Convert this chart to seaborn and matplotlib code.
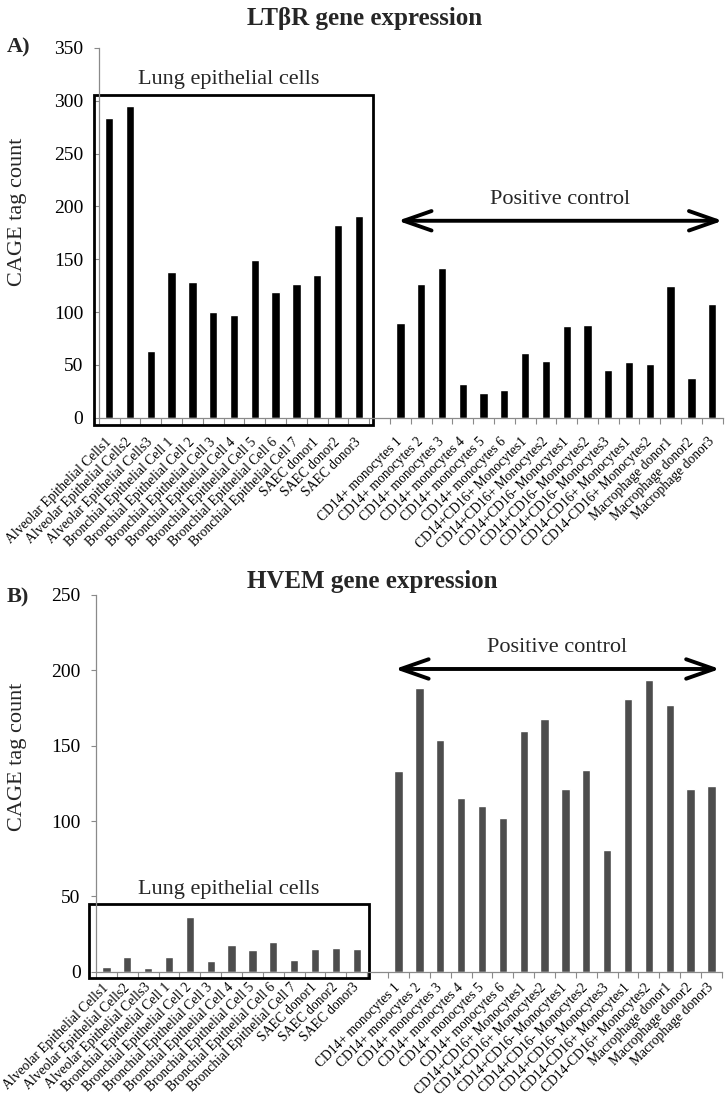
import numpy as np
import pandas as pd
import matplotlib
matplotlib.use("Agg")
import matplotlib.pyplot as plt
from matplotlib.patches import Rectangle
import seaborn as sns

# =======================
# Datos (CAGE tag count)
# =======================
lung_cells = [
    "Alveolar Epithelial Cells1", "Alveolar Epithelial Cells2", "Alveolar Epithelial Cells3",
    "Bronchial Epithelial Cell 1", "Bronchial Epithelial Cell 2", "Bronchial Epithelial Cell 3",
    "Bronchial Epithelial Cell 4", "Bronchial Epithelial Cell 5", "Bronchial Epithelial Cell 6",
    "Bronchial Epithelial Cell 7", "SAEC donor1", "SAEC donor2", "SAEC donor3",
]
control_cells = [
    "CD14+ monocytes 1", "CD14+ monocytes 2", "CD14+ monocytes 3",
    "CD14+ monocytes 4", "CD14+ monocytes 5", "CD14+ monocytes 6",
    "CD14+CD16+ Monocytes1", "CD14+CD16+ Monocytes2",
    "CD14+CD16- Monocytes1", "CD14+CD16- Monocytes2", "CD14+CD16- Monocytes3",
    "CD14-CD16+ Monocytes1", "CD14-CD16+ Monocytes2",
    "Macrophage donor1", "Macrophage donor2", "Macrophage donor3",
]

ltbr_lung = [284, 295, 63, 138, 128, 100, 97, 149, 119, 127, 135, 182, 191]
ltbr_control = [90, 127, 142, 32, 23, 26, 61, 54, 87, 88, 45, 53, 51, 125, 38, 108]

hvem_lung = [3, 10, 2.7, 10, 36, 7, 18, 14.5, 20, 8, 15.3, 16, 15]
hvem_control = [133, 188, 153.5, 115, 110, 102, 160, 168, 121, 134, 81, 181, 193.5, 177, 121.5, 123.5]

# hueco entre los dos grupos
order = lung_cells + [" "] + control_cells

gris = "#8a8a8a"

sns.set_theme(style="white")
plt.rcParams["font.family"] = ["Liberation Serif", "DejaVu Serif"]

fig = plt.figure(figsize=(7.27, 11), dpi=100)
ax1 = fig.add_axes([0.136, 0.6203, 0.858, 0.3361])
ax2 = fig.add_axes([0.132, 0.1166, 0.861, 0.3425])


def panel(ax, lung_vals, control_vals, color, ymax, label_pad):
    df = pd.DataFrame({"cell": lung_cells + control_cells,
                       "count": lung_vals + control_vals})
    sns.barplot(data=df, x="cell", y="count", order=order, color=color,
                width=0.4, saturation=1, errorbar=None, ax=ax)
    ax.set_xlim(-0.5, len(order) - 0.5)
    ax.set_ylim(0, ymax)
    ax.set_yticks(np.arange(0, ymax + 1, 50))
    ax.set_xlabel("")
    ax.set_ylabel("")
    ax.set_xticks(np.arange(len(order)))
    ax.set_xticklabels(order, rotation=45, ha="right", va="center",
                       rotation_mode="anchor", fontsize=9.8)
    ax.set_xticks(np.arange(-0.5, len(order)), minor=True)
    ax.tick_params(axis="x", which="major", bottom=True, length=0, pad=label_pad)
    ax.tick_params(axis="x", which="minor", bottom=True, length=4, width=0.8,
                   color=gris, direction="out")
    ax.tick_params(axis="y", which="major", left=True, length=3.6, width=0.8,
                   color=gris, pad=7.5, labelsize=14)
    ax.tick_params(axis="y", which="minor", left=False)
    for s in ["top", "right"]:
        ax.spines[s].set_visible(False)
    for s in ["left", "bottom"]:
        ax.spines[s].set_color(gris)
        ax.spines[s].set_linewidth(0.9)
    for lab in ax.get_yticklabels() + ax.get_xticklabels():
        lab.set_color("black")


# =======================
# A) LTβR
# =======================
panel(ax1, ltbr_lung, ltbr_control, "black", 350, 16)
ax1.add_patch(Rectangle((-0.74, -6.9), 13.41, 312.2, fill=False, lw=2,
                        ec="black", clip_on=False))
ax1.text(5.75, 316, "Lung epithelial cells", ha="center", va="baseline", fontsize=16)
ax1.annotate("", xy=(29.5, 186.4), xytext=(13.88, 186.4),
             arrowprops=dict(arrowstyle="<->,head_length=1.0,head_width=0.35",
                             lw=2.8, color="black", mutation_scale=20,
                             shrinkA=0, shrinkB=0),
             annotation_clip=False)
ax1.text(21.66, 202, "Positive control", ha="center", va="baseline", fontsize=16)

# =======================
# B) HVEM
# =======================
panel(ax2, hvem_lung, hvem_control, "#4d4d4d", 250, 10)
ax2.add_patch(Rectangle((-0.835, -4.2), 13.415, 49.2, fill=False, lw=2,
                        ec="black", clip_on=False))
ax2.text(5.87, 51.6, "Lung epithelial cells", ha="center", va="baseline", fontsize=16)
ax2.annotate("", xy=(29.4, 200.9), xytext=(13.83, 200.9),
             arrowprops=dict(arrowstyle="<->,head_length=1.0,head_width=0.35",
                             lw=2.8, color="black", mutation_scale=20,
                             shrinkA=0, shrinkB=0),
             annotation_clip=False)
ax2.text(21.6, 212.3, "Positive control", ha="center", va="baseline", fontsize=16)

# títulos y etiquetas
fig.text(0.3398, 0.9773, "LTβR gene expression", fontsize=18, fontweight="bold",
         ha="left", va="baseline")
fig.text(0.3398, 0.4655, "HVEM gene expression", fontsize=18, fontweight="bold",
         ha="left", va="baseline")
fig.text(0.009, 0.9527, "A)", fontsize=16, fontweight="bold", ha="left", va="baseline")
fig.text(0.009, 0.4527, "B)", fontsize=16, fontweight="bold", ha="left", va="baseline")
fig.text(0.0234, 0.8073, "CAGE tag count", rotation=90, fontsize=16,
         ha="center", va="center")
fig.text(0.0234, 0.3118, "CAGE tag count", rotation=90, fontsize=16,
         ha="center", va="center")

fig.savefig("out.png", dpi=100)
